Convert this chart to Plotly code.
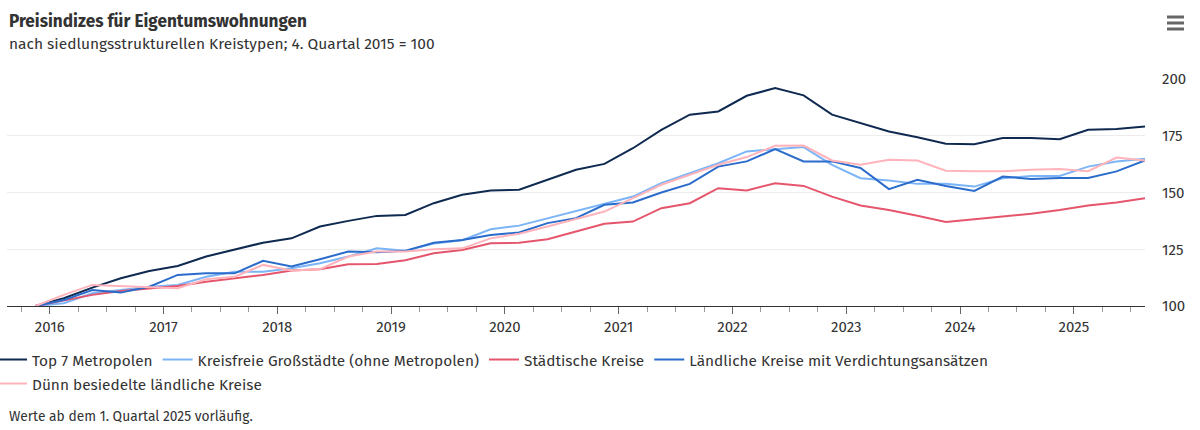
import plotly.graph_objects as go

# Quarters 2015Q4 .. 2025Q3
quarters = ["2015Q4",
            "2016Q1", "2016Q2", "2016Q3", "2016Q4",
            "2017Q1", "2017Q2", "2017Q3", "2017Q4",
            "2018Q1", "2018Q2", "2018Q3", "2018Q4",
            "2019Q1", "2019Q2", "2019Q3", "2019Q4",
            "2020Q1", "2020Q2", "2020Q3", "2020Q4",
            "2021Q1", "2021Q2", "2021Q3", "2021Q4",
            "2022Q1", "2022Q2", "2022Q3", "2022Q4",
            "2023Q1", "2023Q2", "2023Q3", "2023Q4",
            "2024Q1", "2024Q2", "2024Q3", "2024Q4",
            "2025Q1", "2025Q2", "2025Q3"]

top7 = [100, 103.4, 108.1, 112.2, 115.4, 117.6, 121.8, 125.0, 127.9,
        129.8, 135.0, 137.5, 139.7, 140.1, 145.3, 149.0, 150.9,
        151.2, 155.6, 160.0, 162.6, 169.5, 177.6, 184.3, 185.7,
        192.6, 196.0, 192.8, 184.3, 180.6, 176.9, 174.3, 171.5,
        171.3, 174.0, 174.0, 173.5, 177.6, 178.0, 179.1]

kreisfreie = [100, 101.2, 105.6, 107.0, 108.5, 109.3, 112.9, 115.1, 115.1,
              116.6, 118.8, 121.8, 125.4, 124.3, 127.5, 129.0, 133.8,
              135.4, 138.6, 141.6, 145.0, 148.2, 154.1, 158.5, 162.9,
              168.1, 169.1, 170.0, 162.2, 156.3, 155.3, 153.8, 153.8,
              152.6, 156.3, 157.3, 157.3, 161.4, 163.7, 164.9]

staedtisch = [100, 102.3, 104.9, 106.6, 107.8, 108.8, 110.7, 112.2, 113.7,
              115.6, 116.2, 118.4, 118.5, 120.2, 123.2, 124.7, 127.6,
              127.9, 129.4, 132.8, 136.2, 137.2, 143.1, 145.3, 151.9,
              150.9, 154.1, 152.9, 148.2, 144.3, 142.3, 139.8, 137.0,
              138.2, 139.4, 140.6, 142.3, 144.3, 145.6, 147.5]

laendlich_verd = [100, 102.6, 107.0, 105.9, 108.5, 113.7, 114.4, 114.4, 119.9,
                  117.4, 120.6, 124.0, 123.7, 124.3, 127.9, 129.1, 131.3,
                  132.4, 136.5, 138.7, 144.6, 145.6, 150.0, 153.8, 161.4,
                  163.7, 169.1, 163.7, 163.7, 160.8, 151.5, 155.6, 152.9,
                  150.7, 157.0, 156.0, 156.4, 156.4, 159.3, 164.1]

duenn = [100, 104.9, 109.3, 108.8, 108.5, 107.8, 111.8, 112.9, 118.1,
         115.6, 116.2, 121.8, 124.0, 124.0, 125.0, 125.4, 129.8,
         131.8, 135.0, 138.2, 141.6, 147.5, 153.4, 157.8, 162.2,
         165.6, 170.6, 170.7, 164.1, 162.2, 164.4, 164.1, 159.6,
         159.4, 159.4, 160.0, 160.4, 159.4, 165.4, 164.1]

series_names = ["Top 7 Metropolen",
                "Kreisfreie Großstädte (ohne Metropolen)",
                "Städtische Kreise",
                "Ländliche Kreise mit Verdichtungsansätzen",
                "Dünn besiedelte ländliche Kreise"]
series_values = [top7, kreisfreie, staedtisch, laendlich_verd, duenn]
series_colors = ["#0f2a50", "#7cb5f7", "#e5566c", "#2b6ccb", "#ffb3bb"]
series_legend = ["legend", "legend", "legend", "legend", "legend2"]

year_ticks = list(range(2016, 2026))
year_labels = [str(y) for y in year_ticks]

# quarter midpoints on a numeric year axis
x_vals = [int(q[:4]) + (int(q[-1]) - 0.5) / 4 for q in quarters]

FONT = "Fira Sans, Roboto, sans-serif"
TXT = "#333333"

fig = go.Figure()
for name, vals, col, lg in zip(series_names, series_values, series_colors, series_legend):
    fig.add_trace(go.Scatter(x=x_vals, y=vals, mode="lines", name=name,
                             legend=lg, line=dict(color=col, width=2)))

L, R, T, B = 7, 55, 79, 124
PW, PH = 1200 - L - R, 430 - T - B

def px_x(px):
    return (px - L) / PW

def px_y(py):
    return (430 - B - py) / PH

legend_common = dict(orientation="h", xanchor="left", yanchor="top",
                     font=dict(size=15.4, color=TXT, family=FONT),
                     itemwidth=30, bgcolor="rgba(0,0,0,0)")

fig.update_layout(
    width=1200, height=430,
    margin=dict(l=L, r=R, t=T, b=B, autoexpand=False),
    paper_bgcolor="white", plot_bgcolor="white",
    font=dict(family=FONT, color=TXT, size=15),
    showlegend=True,
    legend=dict(x=px_x(-8), y=px_y(343), **legend_common),
    legend2=dict(x=px_x(-8), y=px_y(367), **legend_common),
    xaxis=dict(range=[2015.625, 2025.625], tickmode="array",
               tickvals=year_ticks, ticktext=year_labels,
               showgrid=False, zeroline=False, automargin=False,
               showline=True, linecolor="#333333", linewidth=1,
               ticks="outside", ticklen=7, tickcolor="#666666",
               tickfont=dict(size=15, color=TXT),
               minor=dict(ticks="outside", ticklen=5, tickcolor="#999999",
                          dtick=0.25, tick0=2015.75, showgrid=False)),
    yaxis=dict(range=[100, 200], side="right", tickvals=[100, 125, 150, 175, 200],
               showgrid=True, gridcolor="#ececec", gridwidth=1,
               zeroline=False, showline=False, ticks="", automargin=False,
               ticklabelstandoff=16,
               tickfont=dict(size=15, color=TXT)),
)

fig.add_annotation(text="<b>Preisindizes für Eigentumswohnungen</b>",
                   xref="paper", yref="paper", x=px_x(7), y=px_y(21),
                   xanchor="left", yanchor="middle", showarrow=False,
                   font=dict(size=17.2, color=TXT, family=FONT))
fig.add_annotation(text="nach siedlungsstrukturellen Kreistypen; 4. Quartal 2015 = 100",
                   xref="paper", yref="paper", x=px_x(7), y=px_y(44),
                   xanchor="left", yanchor="middle", showarrow=False,
                   font=dict(size=15.5, color=TXT, family=FONT))
fig.add_annotation(text="Werte ab dem 1. Quartal 2025 vorläufig.",
                   xref="paper", yref="paper", x=px_x(7), y=px_y(416),
                   xanchor="left", yanchor="middle", showarrow=False,
                   font=dict(size=13.8, color=TXT, family=FONT))

# export menu icon (hamburger)
for py in (17, 23, 29):
    fig.add_shape(type="line", xref="paper", yref="paper",
                  x0=px_x(1167), x1=px_x(1184), y0=px_y(py), y1=px_y(py),
                  line=dict(color="#666666", width=3))

fig.write_html("out.html",
               config={"displayModeBar": False},
               post_script="document.body.style.margin='0';"
                           "document.body.style.overflow='hidden';")
